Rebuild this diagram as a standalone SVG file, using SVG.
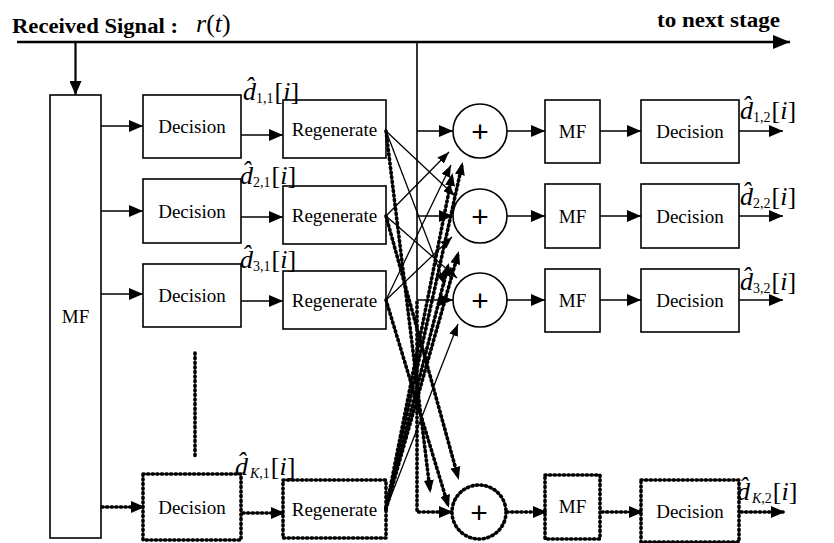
<svg xmlns="http://www.w3.org/2000/svg" width="834" height="543" viewBox="0 0 834 543">
<style>
.box{fill:none;stroke:#000;stroke-width:1.6}
.dbox{fill:none;stroke:#000;stroke-width:3.6;stroke-dasharray:1.2 3.4;stroke-linecap:round}
.ln{fill:none;stroke:#000;stroke-width:1.6}
.tn{fill:none;stroke:#000;stroke-width:1.3}
.dl{fill:none;stroke:#000;stroke-width:3.6;stroke-dasharray:1.2 3.4;stroke-linecap:round}
.lbl{font-family:"Liberation Serif","Times New Roman",serif;font-size:19px;text-anchor:middle;fill:#000}
.hd{font-family:"Liberation Serif","Times New Roman",serif;font-weight:bold;font-size:20px;fill:#000}
.est{font-family:"Liberation Serif","Times New Roman",serif;font-size:26px;fill:#000}
.it{font-style:italic}
.sb{font-size:14px}
.plus{font-family:"Liberation Sans",sans-serif;font-size:30px;text-anchor:middle}
</style>
<defs>
<marker id="a" viewBox="0 0 14 12" refX="14" refY="6" markerWidth="14" markerHeight="12" markerUnits="userSpaceOnUse" orient="auto"><path d="M0,0L14,6L0,12z" fill="#000"/></marker>
<marker id="ad" viewBox="0 0 14 12" refX="12" refY="6" markerWidth="14" markerHeight="12" markerUnits="userSpaceOnUse" orient="auto"><path d="M0,0L14,6L0,12z" fill="#000"/></marker>
<marker id="as" viewBox="0 0 12 9" refX="12" refY="4.5" markerWidth="12" markerHeight="9" markerUnits="userSpaceOnUse" orient="auto"><path d="M0,0L12,4.5L0,9z" fill="#000"/></marker>
<marker id="asd" viewBox="0 0 13 10" refX="10" refY="5" markerWidth="13" markerHeight="10" markerUnits="userSpaceOnUse" orient="auto"><path d="M0,0L13,5L0,10z" fill="#000"/></marker>
<marker id="ab" viewBox="0 0 17 14" refX="17" refY="7" markerWidth="17" markerHeight="14" markerUnits="userSpaceOnUse" orient="auto"><path d="M0,0L17,7L0,14z" fill="#000"/></marker>
</defs>
<rect width="834" height="543" fill="#fff"/>

<text class="hd" x="12" y="33" textLength="166" lengthAdjust="spacingAndGlyphs">Received Signal :</text>
<text class="est" x="196" y="32" font-size="24"><tspan class="it">r</tspan>(<tspan class="it">t</tspan>)</text>
<text class="hd" x="657" y="27" textLength="123" lengthAdjust="spacingAndGlyphs">to next stage</text>

<g id="connectors">
  <line x1="17" y1="42" x2="790" y2="42" stroke="#000" stroke-width="2.6" marker-end="url(#ab)"/>
  <line x1="75.5" y1="42" x2="75.5" y2="95" stroke="#000" stroke-width="2.2" marker-end="url(#a)"/>
  <line class="ln" x1="101" y1="126" x2="143" y2="126" marker-end="url(#a)"/>
  <line class="ln" x1="101" y1="211" x2="143" y2="211" marker-end="url(#a)"/>
  <line class="ln" x1="101" y1="294" x2="143" y2="294" marker-end="url(#a)"/>
  <line class="dl" x1="102" y1="507" x2="143" y2="507" marker-end="url(#ad)"/>
  <line class="ln" x1="241" y1="135" x2="283" y2="135" marker-end="url(#a)"/>
  <line class="ln" x1="241" y1="217" x2="283" y2="217" marker-end="url(#a)"/>
  <line class="ln" x1="241" y1="301" x2="283" y2="301" marker-end="url(#a)"/>
  <line class="dl" x1="243" y1="513" x2="283" y2="513" marker-end="url(#ad)"/>
  <line class="dl" x1="195" y1="353" x2="195" y2="457"/>
  <line class="ln" x1="417" y1="42" x2="417" y2="300"/>
  <line class="ln" x1="417" y1="131" x2="453" y2="131" marker-end="url(#a)"/>
  <line class="ln" x1="417" y1="216" x2="453" y2="216" marker-end="url(#a)"/>
  <line class="ln" x1="417" y1="300" x2="453" y2="300" marker-end="url(#a)"/>
  <path class="dl" d="M417,302 V512 H451" marker-end="url(#ad)"/>
  <line class="tn" x1="386" y1="131" x2="455" y2="196" marker-end="url(#as)"/>
  <line class="tn" x1="386" y1="131" x2="445" y2="285" marker-end="url(#as)"/>
  <line class="tn" x1="386" y1="216" x2="449" y2="152" marker-end="url(#as)"/>
  <line class="tn" x1="386" y1="216" x2="457" y2="278" marker-end="url(#as)"/>
  <line class="tn" x1="386" y1="300" x2="451" y2="165" marker-end="url(#as)"/>
  <line class="tn" x1="386" y1="300" x2="452" y2="237" marker-end="url(#as)"/>
  <line class="tn" x1="386" y1="509" x2="458" y2="324" marker-end="url(#as)"/>
  <line class="dl" x1="386" y1="131" x2="430" y2="490" marker-end="url(#asd)"/>
  <line class="dl" x1="386" y1="216" x2="458" y2="477" marker-end="url(#asd)"/>
  <line class="dl" x1="386" y1="300" x2="448" y2="505" marker-end="url(#asd)"/>
  <line class="dl" x1="386" y1="509" x2="462" y2="165" marker-end="url(#asd)"/>
  <line class="dl" x1="386" y1="509" x2="452" y2="176" marker-end="url(#asd)"/>
  <line class="dl" x1="386" y1="509" x2="458" y2="254" marker-end="url(#asd)"/>
  <line class="dl" x1="386" y1="509" x2="448" y2="266" marker-end="url(#asd)"/>
  <line class="ln" x1="507" y1="131" x2="545" y2="131" marker-end="url(#a)"/>
  <line class="ln" x1="507" y1="216" x2="545" y2="216" marker-end="url(#a)"/>
  <line class="ln" x1="507" y1="300" x2="545" y2="300" marker-end="url(#a)"/>
  <line class="dl" x1="507" y1="512" x2="545" y2="512" marker-end="url(#ad)"/>
  <line class="ln" x1="600" y1="131" x2="641" y2="131" marker-end="url(#a)"/>
  <line class="ln" x1="600" y1="216" x2="641" y2="216" marker-end="url(#a)"/>
  <line class="ln" x1="600" y1="300" x2="641" y2="300" marker-end="url(#a)"/>
  <line class="dl" x1="602" y1="512" x2="641" y2="512" marker-end="url(#ad)"/>
  <line class="ln" x1="739" y1="131" x2="783" y2="131" marker-end="url(#a)"/>
  <line class="ln" x1="739" y1="216" x2="783" y2="216" marker-end="url(#a)"/>
  <line class="ln" x1="739" y1="300" x2="783" y2="300" marker-end="url(#a)"/>
  <line class="dl" x1="741" y1="512" x2="783" y2="512" marker-end="url(#ad)"/>
</g>

<g id="mf1">
  <rect class="box" x="50" y="95" width="51" height="443"/>
  <text class="lbl" x="75.5" y="323" font-size="21">MF</text>
</g>

<g id="dec1-1"><rect class="box" x="143" y="95" width="98" height="63"/><text class="lbl" x="192" y="133">Decision</text></g>
<g id="dec2-1"><rect class="box" x="143" y="179" width="98" height="64"/><text class="lbl" x="192" y="217.5">Decision</text></g>
<g id="dec3-1"><rect class="box" x="143" y="264" width="98" height="63"/><text class="lbl" x="192" y="302">Decision</text></g>
<g id="decK-1"><rect class="dbox" x="143" y="474" width="98" height="66"/><text class="lbl" x="192" y="514">Decision</text></g>

<g id="reg1"><rect class="box" x="283" y="100" width="103" height="58"/><text class="lbl" x="334.5" y="135.5">Regenerate</text></g>
<g id="reg2"><rect class="box" x="283" y="186" width="103" height="58"/><text class="lbl" x="334.5" y="221.5">Regenerate</text></g>
<g id="reg3"><rect class="box" x="283" y="271" width="103" height="58"/><text class="lbl" x="334.5" y="306.5">Regenerate</text></g>
<g id="regK"><rect class="dbox" x="283" y="480" width="103" height="58"/><text class="lbl" x="334.5" y="515.5">Regenerate</text></g>

<g id="sum1"><circle class="box" cx="480" cy="131" r="27"/><text class="plus" x="480" y="142">+</text></g>
<g id="sum2"><circle class="box" cx="480" cy="216" r="27"/><text class="plus" x="480" y="227">+</text></g>
<g id="sum3"><circle class="box" cx="480" cy="300" r="27"/><text class="plus" x="480" y="311">+</text></g>
<g id="sumK"><circle class="dbox" cx="479" cy="512" r="27"/><text class="plus" x="479" y="523">+</text></g>

<g id="mf2-1"><rect class="box" x="545" y="100" width="55" height="63"/><text class="lbl" x="572.5" y="138" font-size="18">MF</text></g>
<g id="mf2-2"><rect class="box" x="545" y="184" width="55" height="64"/><text class="lbl" x="572.5" y="222.5" font-size="18">MF</text></g>
<g id="mf2-3"><rect class="box" x="545" y="269" width="55" height="63"/><text class="lbl" x="572.5" y="307" font-size="18">MF</text></g>
<g id="mf2-K"><rect class="dbox" x="545" y="475" width="55" height="64"/><text class="lbl" x="572.5" y="513" font-size="18">MF</text></g>

<g id="dec1-2"><rect class="box" x="641" y="100" width="98" height="63"/><text class="lbl" x="690" y="138">Decision</text></g>
<g id="dec2-2"><rect class="box" x="641" y="184" width="98" height="64"/><text class="lbl" x="690" y="222.5">Decision</text></g>
<g id="dec3-2"><rect class="box" x="641" y="269" width="98" height="63"/><text class="lbl" x="690" y="307">Decision</text></g>
<g id="decK-2"><rect class="dbox" x="641" y="480" width="98" height="62"/><text class="lbl" x="690" y="518">Decision</text></g>

<g id="est11"><text class="est" x="243" y="100"><tspan class="it">d̂</tspan><tspan class="sb" dy="3">1,1</tspan><tspan dy="-3" dx="1">[<tspan class="it">i</tspan>]</tspan></text></g>
<g id="est21"><text class="est" x="240" y="184"><tspan class="it">d̂</tspan><tspan class="sb" dy="3">2,1</tspan><tspan dy="-3" dx="1">[<tspan class="it">i</tspan>]</tspan></text></g>
<g id="est31"><text class="est" x="240" y="268"><tspan class="it">d̂</tspan><tspan class="sb" dy="3">3,1</tspan><tspan dy="-3" dx="1">[<tspan class="it">i</tspan>]</tspan></text></g>
<g id="estK1"><text class="est" x="235" y="475"><tspan class="it">d̂</tspan><tspan class="sb" dy="3" dx="2"><tspan class="it">K</tspan>,1</tspan><tspan dy="-3" dx="1">[<tspan class="it">i</tspan>]</tspan></text></g>

<g id="est12"><text class="est" x="740" y="119"><tspan class="it">d̂</tspan><tspan class="sb" dy="3">1,2</tspan><tspan dy="-3" dx="1">[<tspan class="it">i</tspan>]</tspan></text></g>
<g id="est22"><text class="est" x="740" y="205"><tspan class="it">d̂</tspan><tspan class="sb" dy="3">2,2</tspan><tspan dy="-3" dx="1">[<tspan class="it">i</tspan>]</tspan></text></g>
<g id="est32"><text class="est" x="740" y="290"><tspan class="it">d̂</tspan><tspan class="sb" dy="3">3,2</tspan><tspan dy="-3" dx="1">[<tspan class="it">i</tspan>]</tspan></text></g>
<g id="estK2"><text class="est" x="737" y="500"><tspan class="it">d̂</tspan><tspan class="sb" dy="3" dx="2"><tspan class="it">K</tspan>,2</tspan><tspan dy="-3" dx="1">[<tspan class="it">i</tspan>]</tspan></text></g>
</svg>
